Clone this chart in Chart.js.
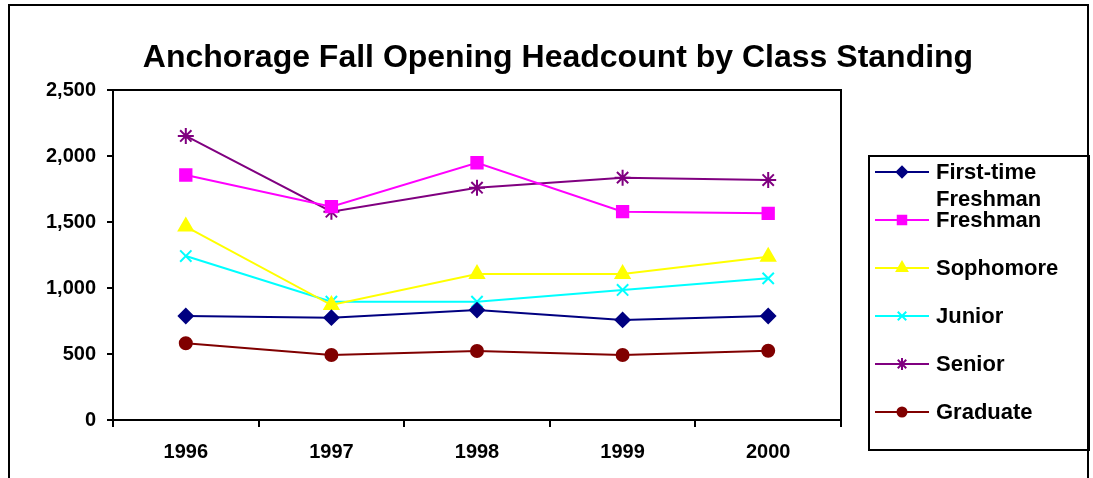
<!DOCTYPE html>
<html>
<head>
<meta charset="utf-8">
<script src="https://cdn.jsdelivr.net/npm/chart.js@4/dist/chart.umd.min.js"></script>
<style>
  html, body { margin: 0; padding: 0; background: #fff; }
  #wrap { position: relative; width: 1093px; height: 478px; }
</style>
</head>
<body>
<div id="wrap"><canvas id="chart"></canvas></div>
<script>
const chartTitle = 'Anchorage Fall Opening Headcount by Class Standing';
const years = ['1996', '1997', '1998', '1999', '2000'];
const seriesNames = ['First-time Freshman', 'Freshman', 'Sophomore', 'Junior', 'Senior', 'Graduate'];
const firstTime = [788, 775, 833, 758, 788];
const freshman = [1856, 1616, 1949, 1578, 1566];
const sophomore = [1465, 871, 1106, 1106, 1237];
const junior = [1242, 896, 896, 985, 1073];
const senior = [2152, 1578, 1760, 1836, 1818];
const graduate = [581, 492, 523, 492, 525];
const yTicks = [0, 500, 1000, 1500, 2000, 2500];

const FONT = '"Liberation Sans", Arial, sans-serif';

function series(i, data, color, style, radius, fill) {
  return {
    label: seriesNames[i],
    data: data,
    borderColor: color,
    backgroundColor: color,
    borderWidth: 2,
    tension: 0,
    pointStyle: style,
    pointRadius: radius,
    pointBackgroundColor: fill,
    pointBorderColor: color,
    pointBorderWidth: 2,
  };
}

// frame, plot border, title and the right-hand legend
const decorPlugin = {
  id: 'decor',
  afterDraw: (chart) => {
    const ctx = chart.ctx;
    const area = chart.chartArea;
    ctx.save();
    ctx.strokeStyle = '#000';
    ctx.lineWidth = 2;
    // outer frame
    ctx.strokeRect(9, 5, 1079, 500);
    // top and right of plot area
    ctx.beginPath();
    ctx.moveTo(area.left, area.top);
    ctx.lineTo(area.right, area.top);
    ctx.lineTo(area.right, area.bottom);
    ctx.stroke();

    // title
    ctx.fillStyle = '#000';
    ctx.font = 'bold 32px ' + FONT;
    ctx.textAlign = 'center';
    ctx.textBaseline = 'middle';
    ctx.fillText(chartTitle, 558, 58);

    // legend box
    ctx.lineWidth = 2;
    ctx.strokeRect(869, 156, 220, 294);
    ctx.font = 'bold 22px ' + FONT;
    ctx.textAlign = 'left';
    chart.data.datasets.forEach((ds, i) => {
      const y = 172 + i * 48;
      ctx.strokeStyle = ds.borderColor;
      ctx.lineWidth = 2;
      ctx.beginPath();
      ctx.moveTo(875, y);
      ctx.lineTo(929, y);
      ctx.stroke();
      ctx.fillStyle = ds.pointBackgroundColor;
      ctx.strokeStyle = ds.pointBorderColor;
      Chart.helpers.drawPoint(ctx, {
        pointStyle: ds.pointStyle,
        radius: ds.pointRadius * 0.75,
        borderWidth: 2,
        rotation: 0,
      }, 902, y);
      // word-wrapped label
      ctx.fillStyle = '#000';
      const words = ds.label.split(' ');
      const lines = [];
      let cur = '';
      words.forEach((w) => {
        const test = cur ? cur + ' ' + w : w;
        if (cur && ctx.measureText(test).width > 145) {
          lines.push(cur);
          cur = w;
        } else {
          cur = test;
        }
      });
      lines.push(cur);
      lines.forEach((ln, k) => ctx.fillText(ln, 936, y + 1 + k * 27));
    });
    ctx.restore();
  },
};

new Chart(document.getElementById('chart'), {
  type: 'line',
  data: {
    labels: years,
    datasets: [
      series(0, firstTime, '#000080', 'rectRot', 7, '#000080'),
      series(1, freshman, '#FF00FF', 'rect', 8, '#FF00FF'),
      series(2, sophomore, '#FFFF00', 'triangle', 8, '#FFFF00'),
      series(3, junior, '#00FFFF', 'crossRot', 8, '#00FFFF'),
      series(4, senior, '#800080', 'star', 8, '#800080'),
      series(5, graduate, '#800000', 'circle', 6, '#800000'),
    ],
  },
  options: {
    responsive: true,
    maintainAspectRatio: false,
    animation: false,
    layout: { padding: { top: 90, right: 252, left: 0, bottom: 0 } },
    scales: {
      x: {
        offset: true,
        afterFit: (s) => { s.height = 58; },
        grid: { offset: true, drawOnChartArea: false, color: '#000', lineWidth: 2, tickLength: 7 },
        border: { color: '#000', width: 2 },
        ticks: { color: '#000', font: { family: FONT, size: 20, weight: 'bold' }, padding: 13 },
      },
      y: {
        min: yTicks[0],
        max: yTicks[yTicks.length - 1],
        afterFit: (s) => { s.width = 113; },
        afterBuildTicks: (s) => { s.ticks = yTicks.map((v) => ({ value: v })); },
        grid: { drawOnChartArea: false, color: '#000', lineWidth: 2, tickLength: 6 },
        border: { color: '#000', width: 2 },
        ticks: {
          color: '#000',
          font: { family: FONT, size: 20, weight: 'bold' },
          padding: 11,
          callback: (v) => v.toLocaleString('en-US'),
        },
      },
    },
    plugins: {
      legend: { display: false },
      title: { display: false },
      tooltip: { enabled: false },
    },
  },
  plugins: [decorPlugin],
});
</script>
</body>
</html>
